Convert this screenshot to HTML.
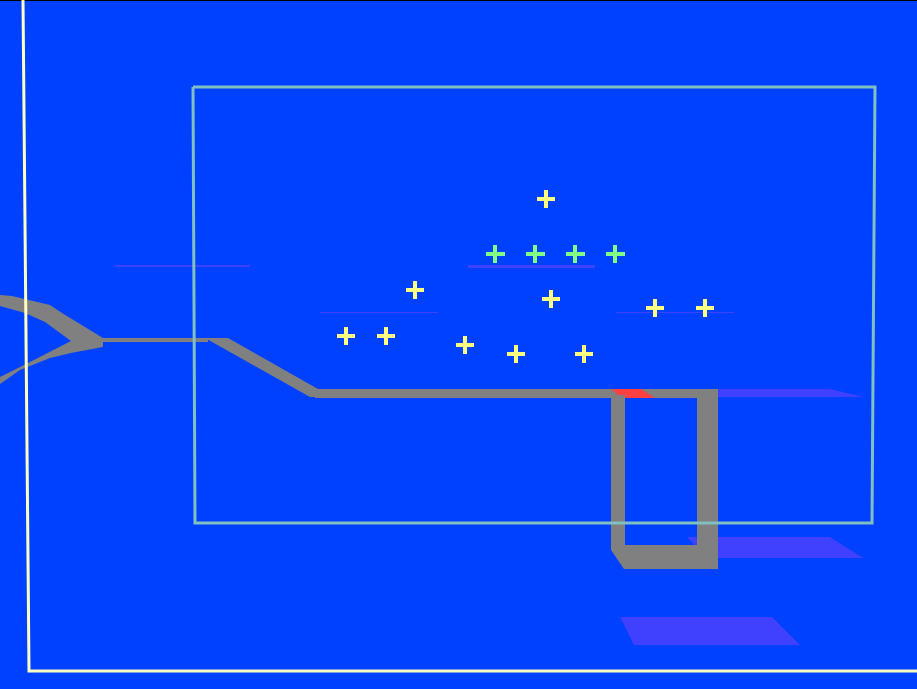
<!DOCTYPE html>
<html><head><style>html,body{margin:0;padding:0;background:#0040ff;overflow:hidden}</style></head>
<body>
<svg width="917" height="689" xmlns="http://www.w3.org/2000/svg" style="display:block">
<rect width="917" height="689" fill="#0040ff"/>
<rect width="917" height="1" fill="#000"/>
<polygon points="700,389 830,389 864,397 718,397" fill="#4040ff"/>
<polygon points="687,537 830,537 863,558 707,558" fill="#4040ff"/>
<polygon points="620,617 772,617 800,645 634,645" fill="#4040ff"/>
<rect x="115" y="265" width="135" height="2" fill="#4040ff"/>
<rect x="468" y="265" width="127" height="3" fill="#4040ff"/>
<rect x="320" y="312" width="118" height="1" fill="#4040ff"/>
<rect x="616" y="312" width="118" height="1" fill="#4040ff"/>
<polygon points="0,295 12,296 50,305 62,313 103,338 103,347 71,353 50,358 20,370 0,384 0,377 30,362 71,341 45,322 25,313 0,306" fill="#808080"/>
<rect x="103" y="338" width="105" height="4" fill="#808080"/>
<polygon points="205,338 228,338 318,389 322,397 310,397" fill="#808080"/>
<rect x="315" y="389" width="403" height="9" fill="#808080"/>
<polygon points="611,389 641,389 655,398 622,398" fill="#ff4040"/>
<rect x="611" y="395" width="14" height="152" fill="#808080"/>
<polygon points="611,545 718,545 718,569 624,569 611,550" fill="#808080"/>
<polygon points="697,389 712,389 718,395 718,569 697,569" fill="#808080"/>
<polyline points="193,87 875,87 872,523 195,523 193,87" fill="none" stroke="#80c0c0" stroke-width="3"/>
<polyline points="23,0 29,671 917,671" fill="none" stroke="#ffffc0" stroke-width="3"/>
<g fill="#ffff80">
<g transform="translate(546,199)"><rect x="-9" y="-2" width="18" height="4"/><rect x="-2" y="-9" width="4" height="18"/></g>
<g transform="translate(415,290)"><rect x="-9" y="-2" width="18" height="4"/><rect x="-2" y="-9" width="4" height="18"/></g>
<g transform="translate(551,299)"><rect x="-9" y="-2" width="18" height="4"/><rect x="-2" y="-9" width="4" height="18"/></g>
<g transform="translate(655,308)"><rect x="-9" y="-2" width="18" height="4"/><rect x="-2" y="-9" width="4" height="18"/></g>
<g transform="translate(705,308)"><rect x="-9" y="-2" width="18" height="4"/><rect x="-2" y="-9" width="4" height="18"/></g>
<g transform="translate(346,336)"><rect x="-9" y="-2" width="18" height="4"/><rect x="-2" y="-9" width="4" height="18"/></g>
<g transform="translate(386,336)"><rect x="-9" y="-2" width="18" height="4"/><rect x="-2" y="-9" width="4" height="18"/></g>
<g transform="translate(465,345)"><rect x="-9" y="-2" width="18" height="4"/><rect x="-2" y="-9" width="4" height="18"/></g>
<g transform="translate(516,354)"><rect x="-9" y="-2" width="18" height="4"/><rect x="-2" y="-9" width="4" height="18"/></g>
<g transform="translate(584,354)"><rect x="-9" y="-2" width="18" height="4"/><rect x="-2" y="-9" width="4" height="18"/></g>
</g>
<g fill="#80ff80">
<g transform="translate(495,254)"><rect x="-9" y="-2" width="19" height="4"/><rect x="-2" y="-9" width="4" height="18"/></g>
<g transform="translate(535,254)"><rect x="-9" y="-2" width="19" height="4"/><rect x="-2" y="-9" width="4" height="18"/></g>
<g transform="translate(575,254)"><rect x="-9" y="-2" width="19" height="4"/><rect x="-2" y="-9" width="4" height="18"/></g>
<g transform="translate(615,254)"><rect x="-9" y="-2" width="19" height="4"/><rect x="-2" y="-9" width="4" height="18"/></g>
</g>
</svg>
</body></html>
